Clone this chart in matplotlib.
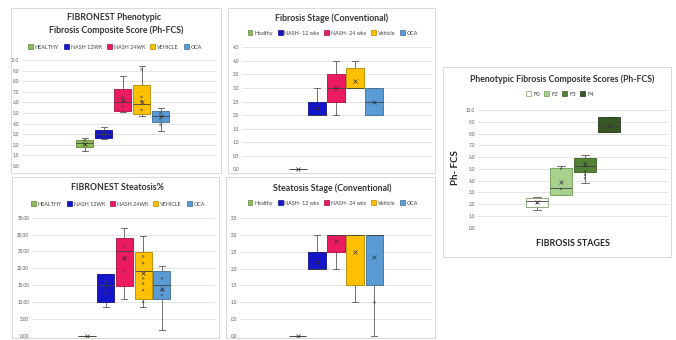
import matplotlib
matplotlib.use('Agg')
import matplotlib.pyplot as plt
from matplotlib.patches import Rectangle, Patch
import matplotlib.colors as mcolors
import numpy as np

W, H = 676, 340
plt.rcParams['font.family'] = ['Lato', 'DejaVu Sans']

# ---------------- data ----------------
groups_upper = ["HEALTHY", "NASH 12WK", "NASH 24WK", "VEHICLE", "OCA"]
groups_mixed = ["Healthy", "NASH- 12 wks", "NASH- 24 wks", "Vehicle", "OCA"]
group_colors = ["#8DBB55", "#1414C8", "#EC1A5E", "#FFC000", "#5B9BD5"]

# Ph-FCS by group (panel 1)
fcs_low = [1.40, 2.55, 5.12, 4.75, 3.30]
fcs_q1 = [1.76, 2.60, 5.22, 4.87, 4.18]
fcs_med = [2.14, 3.00, 6.07, 5.82, 4.72]
fcs_q3 = [2.45, 3.40, 7.24, 7.64, 5.19]
fcs_high = [2.60, 3.70, 8.50, 9.45, 5.44]
fcs_mean = [2.10, 3.05, 6.20, 6.05, 4.75]
fcs_points = [[2.4, 2.0], [3.2, 2.9], [6.5, 5.6], [9.1, 6.5, 6.1, 5.3], [5.0, 4.4, 3.9]]
fcs_ticks = ["0.0", "1.0", "2.0", "3.0", "4.0", "5.0", "6.0", "7.0", "8.0", "9.0", "10.0"]

# Fibrosis stage (conventional) (panel 2)
fib_low = [0.0, 2.0, 2.0, 3.0, 2.0]
fib_q1 = [0.0, 2.0, 2.5, 3.0, 2.0]
fib_med = [0.0, 2.0, 3.0, 3.0, 2.5]
fib_q3 = [0.0, 2.5, 3.5, 3.75, 3.0]
fib_high = [0.0, 3.0, 4.0, 4.0, 3.0]
fib_mean = [0.0, 2.25, 3.0, 3.25, 2.5]
fib_points = [[], [], [], [], []]
fib_ticks = ["0.0", "0.5", "1.0", "1.5", "2.0", "2.5", "3.0", "3.5", "4.0", "4.5"]

# Steatosis % (panel 3)
ste_low = [0.0, 8.5, 10.8, 8.5, 1.7]
ste_q1 = [0.0, 10.1, 14.75, 10.8, 10.9]
ste_med = [0.0, 15.0, 25.1, 19.3, 14.95]
ste_q3 = [0.0, 18.4, 28.9, 24.75, 19.3]
ste_high = [0.0, 18.4, 31.9, 29.7, 20.8]
ste_mean = [0.0, 14.8, 23.0, 18.5, 14.0]
ste_points = [[], [16.0, 12.5], [26.5, 23.0, 19.0], [23.5, 21.5, 17.0, 15.5, 13.5, 10.0], [17.0, 13.5, 12.0]]
ste_ticks = ["0.00", "5.00", "10.00", "15.00", "20.00", "25.00", "30.00", "35.00"]

# Steatosis stage (conventional) (panel 4)
sst_low = [0.0, 2.0, 2.0, 1.0, 0.0]
sst_q1 = [0.0, 2.0, 2.5, 1.5, 1.5]
sst_med = [0.0, 2.0, 3.0, 3.0, 3.0]
sst_q3 = [0.0, 2.5, 3.0, 3.0, 3.0]
sst_high = [0.0, 3.0, 3.0, 3.0, 3.0]
sst_mean = [0.0, 2.2, 2.8, 2.5, 2.35]
sst_points = [[], [], [], [], [1.0]]
sst_ticks = ["0.0", "0.5", "1.0", "1.5", "2.0", "2.5", "3.0", "3.5"]

# Ph-FCS by fibrosis stage (panel 5)
stages = ["F0", "F2", "F3", "F4"]
stage_colors = ["#FFFFFF", "#A9D18E", "#548235", "#375623"]
stage_edges = ["#7F9F6A", "#6E9B50", "#3A5E22", "#24391A"]
pfs_low = [1.50, 2.75, 3.80, 8.15]
pfs_q1 = [1.80, 2.80, 4.75, 8.15]
pfs_med = [2.25, 3.40, 5.25, 8.60]
pfs_q3 = [2.50, 5.05, 5.95, 9.40]
pfs_high = [2.60, 5.20, 6.15, 9.40]
pfs_mean = [2.20, 3.90, 5.30, 8.60]
pfs_points = [[2.1], [5.0, 3.3], [5.5, 4.8, 4.5, 4.2], []]
pfs_ticks = fcs_ticks


# ---------------- helpers ----------------
def darker(c, f=0.7):
    r, g, b = mcolors.to_rgb(c)
    return (r * f, g * f, b * f)


def frame(x0, y0, x1, y1):
    fig.patches.append(Rectangle((x0 / W, 1 - y1 / H), (x1 - x0) / W, (y1 - y0) / H,
                                 transform=fig.transFigure, fill=False,
                                 edgecolor="#D9D9D9", lw=0.7))


def make_ax(x0, x1, ytop, ybot):
    return fig.add_axes([x0 / W, 1 - ybot / H, (x1 - x0) / W, (ybot - ytop) / H])


def draw_boxes(ax, low, q1, med, q3, high, mean, points, colors, edges, ticks,
               ymax, step, xlim, width, spacing=1.0):
    n = len(low)
    pos = np.arange(n) * spacing
    stats = []
    for i in range(n):
        stats.append(dict(whislo=low[i], q1=q1[i], med=med[i], q3=q3[i],
                          whishi=high[i], mean=mean[i], fliers=[]))
    bp = ax.bxp(stats, positions=pos, widths=width, patch_artist=True,
                showmeans=True, manage_ticks=False,
                meanprops=dict(marker='x', markersize=2.2, markeredgecolor='#303030',
                               markeredgewidth=0.5),
                medianprops=dict(color='#404040', lw=0.6),
                whiskerprops=dict(color='#595959', lw=0.6),
                capprops=dict(color='#595959', lw=0.6),
                capwidths=width * 0.35)
    for i, b in enumerate(bp['boxes']):
        b.set_facecolor(colors[i])
        b.set_edgecolor(edges[i])
        b.set_linewidth(0.6)
        b.set_zorder(3)
    for key in bp:
        for art in bp[key]:
            art.set_clip_on(False)
    for m in bp['medians']:
        m.set_zorder(4)
    for m in bp['means']:
        m.set_zorder(5)
    for i, pts in enumerate(points):
        if pts:
            ax.scatter(np.full(len(pts), pos[i]), pts, s=1.5, facecolor='none',
                       edgecolor='#404040', linewidths=0.4, zorder=4, clip_on=False)
    ax.set_ylim(0, ymax)
    ax.set_xlim(*xlim)
    yt = np.arange(len(ticks)) * step
    ax.set_yticks(yt)
    ax.set_yticklabels(ticks)
    ax.tick_params(axis='y', length=0, labelsize=3.3, labelcolor='#595959', pad=2)
    ax.set_xticks([])
    ax.grid(axis='y', color='#D9D9D9', lw=0.5)
    ax.set_axisbelow(True)
    for s in ax.spines.values():
        s.set_visible(False)
    return bp


def add_legend(labels, colors, edges, cx, cy, fs=3.9, colsp=0.9):
    handles = [Patch(facecolor=colors[i], edgecolor=edges[i], lw=0.5) for i in range(len(labels))]
    fig.legend(handles, labels, loc='center', bbox_to_anchor=(cx / W, 1 - cy / H),
               ncol=len(labels), fontsize=fs, frameon=False, handlelength=0.9,
               handleheight=0.9, columnspacing=colsp, handletextpad=0.35,
               borderpad=0, labelcolor='#404040')


fig = plt.figure(figsize=(W / 100, H / 100), dpi=100)
fig.patch.set_facecolor('white')

group_edges = [darker(c, 0.7) for c in group_colors]
title_kw = dict(ha='center', va='center', fontweight='bold', fontsize=6.3, color='#333333')

# Panel 1
frame(11, 8, 221, 173)
ax1 = make_ax(22, 217, 60, 166)
draw_boxes(ax1, fcs_low, fcs_q1, fcs_med, fcs_q3, fcs_high, fcs_mean, fcs_points,
           group_colors, group_edges, fcs_ticks, 10, 1.0, (-3.29, 6.97), 0.9)
fig.text(114 / W, 1 - 18 / H, "FIBRONEST Phenotypic", **title_kw)
fig.text(116 / W, 1 - 30 / H, "Fibrosis Composite Score (Ph-FCS)", **title_kw)
add_legend(groups_upper, group_colors, group_edges, 115, 47)

# Panel 2
frame(228, 8, 435, 173)
ax2 = make_ax(242, 432, 47.3, 169.3)
draw_boxes(ax2, fib_low, fib_q1, fib_med, fib_q3, fib_high, fib_mean, fib_points,
           group_colors, group_edges, fib_ticks, 4.5, 0.5, (-2.95, 7.05), 0.92)
fig.text(332 / W, 1 - 18 / H, "Fibrosis Stage (Conventional)", **title_kw)
add_legend(groups_mixed, group_colors, group_edges, 333, 33)

# Panel 3
frame(12, 177, 219, 338)
ax3 = make_ax(32, 215, 217.7, 335.7)
draw_boxes(ax3, ste_low, ste_q1, ste_med, ste_q3, ste_high, ste_mean, ste_points,
           group_colors, group_edges, ste_ticks, 35, 5.0, (-2.94, 6.84), 0.92)
fig.text(117 / W, 1 - 188 / H, "FIBRONEST Steatosis%", **title_kw)
add_legend(groups_upper, group_colors, group_edges, 118, 204)

# Panel 4
frame(226, 177, 435, 338)
ax4 = make_ax(240, 432, 217.7, 336.3)
draw_boxes(ax4, sst_low, sst_q1, sst_med, sst_q3, sst_high, sst_mean, sst_points,
           group_colors, group_edges, sst_ticks, 3.5, 0.5, (-3.0, 7.0), 0.92)
fig.text(332 / W, 1 - 188 / H, "Steatosis Stage (Conventional)", **title_kw)
add_legend(groups_mixed, group_colors, group_edges, 333, 203)

# Panel 5
frame(443, 67, 671, 257)
ax5 = make_ax(478, 668, 110, 227.7)
draw_boxes(ax5, pfs_low, pfs_q1, pfs_med, pfs_q3, pfs_high, pfs_mean, pfs_points,
           stage_colors, stage_edges, pfs_ticks, 10, 1.0, (-2.46, 5.46), 0.92)
fig.text(562 / W, 1 - 79 / H, "Phenotypic Fibrosis Composite Scores (Ph-FCS)", **title_kw)
add_legend(stages, stage_colors, stage_edges, 560, 94, fs=4.2, colsp=0.7)
fig.text(455 / W, 1 - 168 / H, "Ph- FCS", rotation=90, ha='center', va='center',
         fontweight='bold', fontsize=7, color='#262626')
fig.text(573 / W, 1 - 243 / H, "FIBROSIS STAGES", ha='center', va='center',
         fontweight='bold', fontsize=6.4, color='#262626')

fig.savefig('out.png', dpi=100, facecolor='white')
